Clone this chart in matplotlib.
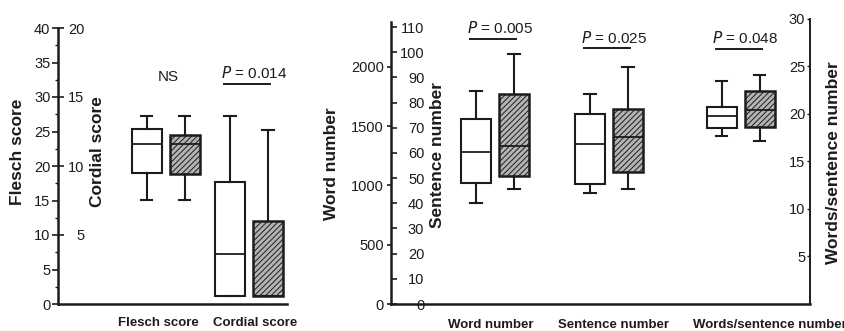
import matplotlib
matplotlib.use("Agg")
import matplotlib.pyplot as plt

plt.rcParams["font.family"] = ["Liberation Sans", "DejaVu Sans"]
plt.rcParams["hatch.color"] = "#4d4d4d"
plt.rcParams["hatch.linewidth"] = 0.7

INK = "#1c1c1c"

# five-number summaries: (q1, median, q3, lower whisker, upper whisker)
# first entry of each pair = open box, second = hatched box
flesch = [(19.0, 23.2, 25.3, 15.1, 27.2), (18.8, 23.2, 24.5, 15.1, 27.2)]
cordial = [(0.58, 3.6, 8.85, 0.58, 13.6), (0.58, 0.6, 6.0, 0.58, 12.6)]
words = [(1017, 1284, 1557, 849, 1798), (1081, 1334, 1770, 969, 2107)]
sentences = [(47.7, 63.4, 75.5, 44.0, 83.4), (52.5, 66.4, 77.4, 45.6, 94.2)]
words_per_sentence = [(18.5, 19.75, 20.7, 17.65, 23.4), (18.55, 20.4, 22.4, 17.1, 24.05)]

p_values = {"Cordial": "0.014", "Word": "0.005", "Sentence": "0.025", "WPS": "0.048"}

W, H = 844, 331
fig = plt.figure(figsize=(W / 100, H / 100), dpi=100)


def rect(x0, x1, ytop, ybot):
    return [x0 / W, 1 - ybot / H, (x1 - x0) / W, (ybot - ytop) / H]


def to_stats(rows):
    return [dict(q1=a, med=b, q3=c, whislo=d, whishi=e, fliers=[]) for a, b, c, d, e in rows]


def draw_pair(ax, rows, centre, width=30, gap=19):
    pos = [centre - gap, centre + gap]
    lw = 1.5
    bp = ax.bxp(to_stats(rows), positions=pos, widths=width, capwidths=width * 0.38,
                patch_artist=True, showfliers=False, manage_ticks=False,
                boxprops=dict(edgecolor=INK, linewidth=lw),
                medianprops=dict(color=INK, linewidth=1.3),
                whiskerprops=dict(color=INK, linewidth=lw),
                capprops=dict(color=INK, linewidth=lw))
    bp["boxes"][0].set_facecolor("white")
    bp["boxes"][1].set_facecolor("#b4b4b4")
    bp["boxes"][1].set_hatch("//////")
    bp["boxes"][1].set_linewidth(1.8)
    return pos


def p_label(ax, pos, y_text, y_line, value):
    ax.plot([pos[0] - 6, pos[1] + 2], [y_line, y_line], color=INK, lw=1.4,
            transform=ax.get_xaxis_transform(), clip_on=False)
    ax.text(pos[0] - 9, y_text, "$P$ = " + value, fontsize=11, color=INK,
            transform=ax.get_xaxis_transform(), va="center", ha="left")


def frac(ypix, ytop, ybot):
    return (ybot - ypix) / (ybot - ytop)


# ---- left panel: Flesch / Cordial ----
ax = fig.add_axes(rect(58, 287, 28, 304))
for s in ("top", "right"):
    ax.spines[s].set_visible(False)
for s in ("left", "bottom"):
    ax.spines[s].set_linewidth(1.8)
    ax.spines[s].set_color(INK)
ax.set_yticks(range(0, 41, 5))
ax.set_yticks([v + 2.5 for v in range(0, 40, 5)], minor=True)
ax.tick_params(axis="y", which="major", length=4, width=1.2, pad=1.5, labelsize=10.5, colors=INK)
ax.tick_params(axis="y", which="minor", length=2.5, width=1.0, colors=INK)

axc = ax.twinx()
axc.spines["right"].set_position(("axes", 0))
for s in ("top", "left", "bottom", "right"):
    axc.spines[s].set_visible(False)
axc.set_yticks([5, 10, 15, 20], ["5", "10", "15", "20"], ha="right")
axc.tick_params(axis="y", length=4, width=1.2, pad=15, labelsize=10.5, colors=INK)

fpos = draw_pair(ax, flesch, 107.5)
cpos = draw_pair(axc, cordial, 191)
ax.set_xlim(0, 229)
ax.set_ylim(0, 40)
axc.set_ylim(0, 20)
ax.set_xticks([100, 197], ["Flesch score", "Cordial score"], fontweight="bold", fontsize=9.5)
ax.tick_params(axis="x", length=0, pad=9, colors=INK)

ax.text(168 - 58, frac(77, 28, 304), "NS", fontsize=11, color=INK, ha="center", va="center",
        transform=ax.get_xaxis_transform())
p_label(axc, cpos, frac(73, 28, 304), frac(84, 28, 304), p_values["Cordial"])

# ---- middle panel: Word / Sentence number ----
TOP, BOT = 22, 304
axw = fig.add_axes(rect(391, 810, TOP, BOT))
for s in ("top", "right"):
    axw.spines[s].set_visible(False)
for s in ("left", "bottom"):
    axw.spines[s].set_linewidth(1.8)
    axw.spines[s].set_color(INK)
axw.set_yticks(range(0, 2001, 500))
axw.tick_params(axis="y", length=3, width=1.2, pad=2, labelsize=10.5, colors=INK)

axs = axw.twinx()
axs.spines["right"].set_position(("axes", 0))
for s in ("top", "left", "bottom", "right"):
    axs.spines[s].set_visible(False)
axs.set_yticks(range(0, 111, 10), [str(v) for v in range(0, 111, 10)], ha="right")
axs.tick_params(axis="y", length=4, width=1.2, pad=20, labelsize=10.5, colors=INK)

wpos = draw_pair(axw, words, 104)
spos = draw_pair(axs, sentences, 218)
axw.set_xlim(0, 419)
axw.set_ylim(0, 2377)
axs.set_ylim(0, 112)
axw.set_xticks([100, 222, 379], ["Word number", "Sentence number", "Words/sentence number"],
               fontweight="bold", fontsize=9.5)
axw.tick_params(axis="x", length=0, pad=11, colors=INK)
p_label(axw, wpos, frac(28, TOP, BOT), frac(39, TOP, BOT), p_values["Word"])
p_label(axs, spos, frac(38, TOP, BOT), frac(48, TOP, BOT), p_values["Sentence"])

# ---- right axis: words per sentence ----
RTOP = 18.5
axr = fig.add_axes(rect(391, 810, RTOP, BOT))
axr.patch.set_visible(False)
for s in ("top", "right", "bottom"):
    axr.spines[s].set_visible(False)
axr.spines["left"].set_position(("axes", 1))
axr.spines["left"].set_linewidth(1.4)
axr.spines["left"].set_color(INK)
axr.set_yticks(range(5, 31, 5))
axr.tick_params(axis="y", length=2.5, width=1.0, pad=1, labelsize=10.5, colors=INK)

rpos = draw_pair(axr, words_per_sentence, 349.5)
axr.set_xlim(0, 419)
axr.set_ylim(0, 30)
axr.set_xticks([])
p_label(axr, rpos, frac(38, RTOP, BOT), frac(49, RTOP, BOT), p_values["WPS"])

# ---- axis titles ----
ylab = dict(rotation=90, fontweight="bold", fontsize=12.5, color=INK, ha="center", va="center")
fig.text(18 / W, 1 - 152 / H, "Flesch score", **ylab)
fig.text(97 / W, 1 - 152 / H, "Cordial score", **ylab)
fig.text(332 / W, 1 - 164 / H, "Word number", **ylab)
fig.text(437 / W, 1 - 155 / H, "Sentence number", **ylab)
fig.text(833 / W, 1 - 163 / H, "Words/sentence number", **ylab)

fig.savefig("out.png", dpi=100)
